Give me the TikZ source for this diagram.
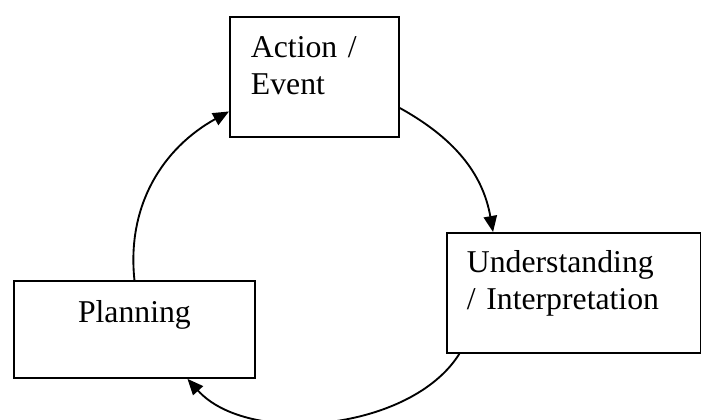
\documentclass[tikz,border=0pt]{standalone}
\usepackage{fontspec}
\setmainfont{Liberation Serif}
\usetikzlibrary{arrows.meta}

\begin{document}
\begin{tikzpicture}[x=0.75pt,y=-0.75pt,->,>={Triangle[length=12pt,width=10pt]},line width=1.4pt,
    box/.style={rectangle,draw,anchor=north west,inner ysep=0pt,font=\fontsize{23.8pt}{27.4pt}\selectfont}]

            \useasboundingbox (0,0) rectangle (701,420);

            \node[box, align=left, inner xsep=15.75pt, text width=95.25pt, text height=30.75pt, text depth=59.25pt] (act) at (229,16) {Action /\\Event};
            \node[box, align=left, inner xsep=15pt, text width=160.5pt, text height=30pt, text depth=60pt] (und) at (446,232) {Understanding\\/ Interpretation};
            \node[box, align=center, inner xsep=0pt, text width=180.75pt, text height=31.5pt, text depth=41.25pt] (plan) at (13,280) {Planning};

            \draw (plan.north) to[out=96, in=209] (act.202);
            \draw (act.340) to[out=-29, in=100] (und.143);
            \draw (und.208) to[out=238, in=312, looseness=0.85] (plan.317);

        \end{tikzpicture}
\end{document}
